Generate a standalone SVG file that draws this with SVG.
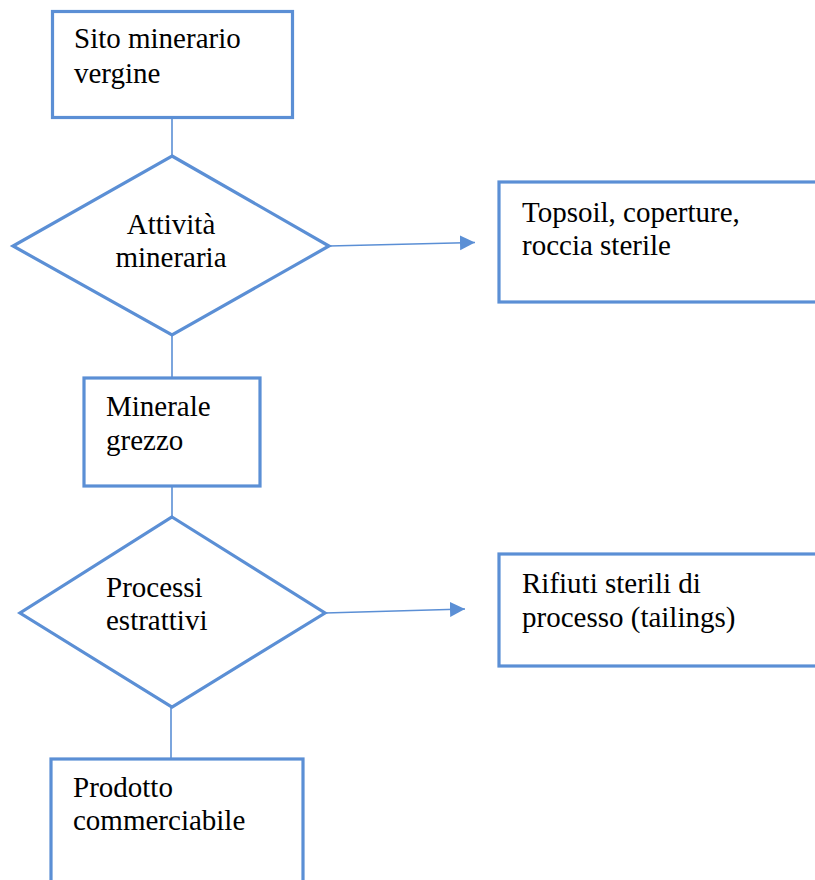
<svg xmlns="http://www.w3.org/2000/svg" width="815" height="880" viewBox="0 0 815 880">
<style>
.box{fill:#ffffff;stroke:#5B8FD5;stroke-width:3.2}
.con{fill:none;stroke:#5B8FD5;stroke-width:1.6}
.t{font-family:"Liberation Serif","Times New Roman",serif;font-size:29px;fill:#000}
.c{text-anchor:middle}
</style>
<defs>
<marker id="arr" markerUnits="userSpaceOnUse" markerWidth="16" markerHeight="16" refX="15" refY="7.5" orient="auto">
<path d="M0,0 L15,7.5 L0,15 Z" fill="#5B8FD5"/>
</marker>
</defs>
<rect width="815" height="880" fill="#ffffff"/>
<g id="connectors">
<line class="con" x1="172" y1="118" x2="172" y2="157"/>
<line class="con" x1="172" y1="335" x2="172" y2="378"/>
<line class="con" x1="172" y1="486" x2="172" y2="517"/>
<line class="con" x1="171" y1="707" x2="171" y2="759"/>
<line class="con" x1="329" y1="246" x2="475" y2="242.5" marker-end="url(#arr)"/>
<line class="con" x1="325" y1="613" x2="465" y2="609" marker-end="url(#arr)"/>
</g>
<g id="n1">
<rect class="box" x="52.5" y="11.5" width="240" height="106"/>
<text class="t" x="74" y="48">Sito minerario</text>
<text class="t" x="74" y="83">vergine</text>
</g>
<g id="n2">
<polygon class="box" points="172,156 329,246 172,335 13,246"/>
<text class="t c" x="171" y="234">Attività</text>
<text class="t c" x="171" y="267">mineraria</text>
</g>
<g id="n3">
<rect class="box" x="499" y="182" width="330" height="120"/>
<text class="t" x="522" y="222">Topsoil, coperture,</text>
<text class="t" x="522" y="255">roccia sterile</text>
</g>
<g id="n4">
<rect class="box" x="84" y="378" width="176" height="108"/>
<text class="t" x="106" y="416">Minerale</text>
<text class="t" x="106" y="450">grezzo</text>
</g>
<g id="n5">
<polygon class="box" points="172,517 325,613 172,707 20,613"/>
<text class="t" x="106" y="597">Processi</text>
<text class="t" x="106" y="630">estrattivi</text>
</g>
<g id="n6">
<rect class="box" x="499" y="554" width="330" height="112"/>
<text class="t" x="522" y="593">Rifiuti sterili di</text>
<text class="t" x="522" y="627">processo (tailings)</text>
</g>
<g id="n7">
<rect class="box" x="51" y="759" width="252" height="140"/>
<text class="t" x="73" y="797">Prodotto</text>
<text class="t" x="73" y="830">commerciabile</text>
</g>
</svg>
